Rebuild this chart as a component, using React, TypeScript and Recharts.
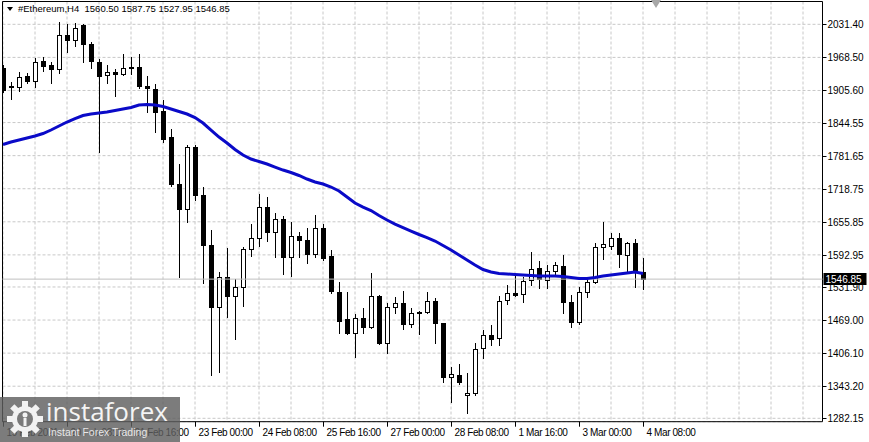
import {
  ComposedChart,
  Bar,
  Line,
  XAxis,
  YAxis,
  CartesianGrid,
  ReferenceLine,
  ReferenceArea,
} from "recharts";

// time labels, one every 8 H4 bars
const timeLabels = [
  "19 Feb 2021", "20 Feb 08:00", "21 Feb 16:00", "23 Feb 00:00", "24 Feb 08:00",
  "25 Feb 16:00", "27 Feb 00:00", "28 Feb 08:00", "1 Mar 16:00", "3 Mar 00:00", "4 Mar 08:00",
];

const priceTicks = [
  2031.4, 1968.5, 1905.6, 1844.55, 1781.65, 1718.75, 1655.85,
  1592.95, 1531.9, 1469.0, 1406.1, 1343.2, 1282.15,
];

const lastPrice = 1546.85;

const opens = [
  1948.9, 1914.1, 1912.7, 1933.1, 1923.6, 1961.6, 1954.0, 1946.4, 2011.0, 2001.5,
  2030.1, 1993.4, 1960.6, 1935.0, 1941.2, 1936.9, 1948.5, 1950.8, 1914.1, 1907.8,
  1866.5, 1816.5, 1727.7, 1679.6, 1797.5, 1706.8, 1611.7, 1494.3, 1550.3, 1514.7,
  1532.4, 1603.5, 1624.4, 1684.5, 1637.0, 1660.6, 1589.4, 1628.8, 1621.2, 1594.6,
  1643.4, 1590.8, 1522.9, 1470.4, 1444.9, 1472.3, 1455.2, 1514.7, 1425.9, 1494.3,
  1502.0, 1461.4, 1481.8, 1484.8, 1505.8, 1462.8, 1361.2, 1364.5, 1325.9, 1329.7,
  1415.2, 1440.5, 1434.8, 1507.1, 1521.0, 1518.5, 1545.1, 1567.4, 1545.1, 1562.8,
  1571.7, 1503.9, 1465.8, 1522.9, 1541.9, 1608.4, 1609.8, 1624.4, 1592.7, 1614.9,
  1560.5,
];
const highs = [
  1954.0, 1922.2, 1940.1, 1938.2, 1966.7, 1969.8, 1960.3, 2036.3, 2031.4, 2033.3,
  2032.0, 1998.7, 1965.4, 1954.0, 1946.4, 1974.9, 1969.8, 1974.9, 1933.1, 1917.3,
  1887.4, 1831.7, 1765.7, 1801.9, 1801.9, 1721.4, 1640.2, 1560.9, 1605.4, 1546.5,
  1608.4, 1651.6, 1708.7, 1703.5, 1673.1, 1666.8, 1656.0, 1637.0, 1643.4, 1668.7,
  1651.6, 1602.2, 1541.9, 1522.9, 1480.5, 1491.3, 1559.0, 1516.6, 1500.8, 1513.4,
  1524.8, 1491.3, 1486.0, 1522.9, 1510.3, 1463.9, 1379.1, 1384.8, 1367.7, 1424.7,
  1450.0, 1459.5, 1514.7, 1535.6, 1556.5, 1550.3, 1598.9, 1581.8, 1573.6, 1579.9,
  1592.7, 1516.6, 1531.2, 1551.4, 1616.1, 1656.0, 1633.9, 1633.9, 1618.0, 1622.5,
  1587.75,
];
const lows = [
  1902.6, 1889.3, 1904.5, 1919.2, 1912.7, 1942.6, 1919.2, 1938.2, 1978.1, 1990.7,
  1960.3, 1947.7, 1789.5, 1919.2, 1896.0, 1935.0, 1936.9, 1911.2, 1865.2, 1827.1,
  1808.1, 1723.9, 1551.4, 1656.0, 1697.3, 1540.0, 1364.5, 1370.7, 1475.3, 1432.4,
  1495.7, 1590.8, 1609.8, 1619.9, 1588.3, 1556.5, 1552.7, 1589.4, 1578.0, 1589.4,
  1583.2, 1520.4, 1444.9, 1443.0, 1398.1, 1444.9, 1453.3, 1423.0, 1406.9, 1481.8,
  1451.4, 1455.2, 1442.4, 1483.0, 1424.7, 1351.7, 1313.7, 1347.3, 1292.8, 1326.4,
  1396.2, 1421.5, 1421.5, 1499.5, 1514.7, 1503.9, 1535.6, 1529.9, 1529.3, 1554.6,
  1482.9, 1455.2, 1461.4, 1513.4, 1539.4, 1584.5, 1603.5, 1570.4, 1562.8, 1531.2,
  1527.95,
];
const closes = [
  1906.4, 1912.2, 1931.7, 1924.1, 1959.1, 1952.7, 1945.8, 2011.0, 2001.5, 2024.9,
  1993.4, 1961.6, 1933.1, 1941.2, 1936.9, 1948.3, 1949.5, 1914.1, 1909.7, 1864.0,
  1813.3, 1727.7, 1679.6, 1797.5, 1706.8, 1611.7, 1494.3, 1550.3, 1514.7, 1532.4,
  1603.5, 1624.4, 1684.5, 1637.0, 1660.6, 1589.4, 1628.8, 1621.2, 1594.6, 1643.4,
  1586.4, 1524.8, 1467.7, 1444.9, 1472.3, 1455.2, 1514.7, 1425.9, 1494.3, 1502.0,
  1461.4, 1481.8, 1484.8, 1505.8, 1463.9, 1361.2, 1365.8, 1351.7, 1329.7, 1413.3,
  1440.5, 1432.9, 1505.2, 1521.0, 1516.6, 1543.8, 1565.5, 1546.5, 1562.8, 1573.6,
  1503.9, 1465.8, 1522.9, 1541.9, 1608.4, 1613.6, 1624.4, 1594.6, 1616.1, 1560.9,
  1546.85,
];
// moving average (blue line)
const maValues = [
  1802.8, 1807.6, 1811.4, 1815.2, 1819.0, 1823.7, 1830.4, 1838.0, 1845.6, 1852.2,
  1858.0, 1860.8, 1862.7, 1864.6, 1867.5, 1870.3, 1873.2, 1877.9, 1878.9, 1877.9,
  1875.1, 1870.3, 1865.6, 1860.8, 1854.1, 1843.7, 1830.4, 1817.1, 1805.7, 1793.3,
  1782.8, 1775.2, 1770.5, 1765.7, 1760.0, 1754.3, 1749.6, 1743.9, 1737.2, 1731.5,
  1727.7, 1722.0, 1714.4, 1703.0, 1691.6, 1683.9, 1677.3, 1667.8, 1659.2, 1651.6,
  1645.0, 1638.3, 1631.7, 1625.9, 1619.3, 1610.7, 1602.2, 1592.7, 1583.2, 1573.6,
  1565.1, 1560.3, 1557.5, 1556.5, 1555.6, 1554.6, 1553.7, 1552.7, 1552.7, 1552.7,
  1551.8, 1549.9, 1548.0, 1548.0, 1549.9, 1552.7, 1554.6, 1556.5, 1558.4, 1560.3,
  1557.5,
];

const data = opens.map((o, i) => ({
  k: i,
  open: o,
  high: highs[i],
  low: lows[i],
  close: closes[i],
  ma: maValues[i],
}));

const Y_MIN = 1275.7;
const Y_MAX = 2074.8;
const X_MIN = -0.0625;
const X_MAX = 102.4375;
const gridTicks = [0, 4, 8, 12, 16, 20, 24, 28, 32, 36, 40, 44, 48, 52, 56, 60, 64, 68, 72, 76, 80, 84, 88, 92, 96, 100];

const FONT = "'Liberation Sans', Arial, sans-serif";

function Candle(props: any) {
  const { x, y, width, height, payload } = props;
  if (x == null || y == null || !payload) return <g />;
  const top = Math.min(y, y + height);
  const bottom = Math.max(y, y + height);
  const { open, high, low, close } = payload;
  const span = high - low || 1;
  const py = (p: number) => top + ((high - p) / span) * (bottom - top);
  const cx = Math.round(x + width / 2);
  const bull = close >= open;
  const bTop = Math.round(py(Math.max(open, close)));
  const bBot = Math.round(py(Math.min(open, close)));
  return (
    <g>
      <line x1={cx + 0.5} x2={cx + 0.5} y1={Math.round(top)} y2={Math.round(bottom) + 1} stroke="#000" strokeWidth={1} />
      <rect
        x={cx - 1.5}
        y={bTop + 0.5}
        width={4}
        height={Math.max(bBot - bTop, 0)}
        fill={bull ? "#fff" : "#000"}
        stroke="#000"
        strokeWidth={1}
      />
    </g>
  );
}

function TimeTick(props: any) {
  const { x, y, payload } = props;
  const k = payload.value;
  const idx = k / 8;
  if (k % 8 !== 0 || idx >= timeLabels.length) return <g />;
  const px = Math.round(x) + 0.5;
  return (
    <g>
      <line x1={px} x2={px} y1={y} y2={y + 5} stroke="#000" />
      <text x={px + 3} y={y + 14} fontSize={10} letterSpacing={-0.4} fontFamily={FONT} fill="#000">
        {timeLabels[idx]}
      </text>
    </g>
  );
}

function PriceTick(props: any) {
  const { x, y, payload } = props;
  const py = Math.round(y) + 0.5;
  return (
    <g>
      <line x1={x} x2={x + 4} y1={py} y2={py} stroke="#000" />
      <text x={x + 5} y={py + 3.5} fontSize={10} fontFamily={FONT} fill="#000">
        {payload.value.toFixed(2)}
      </text>
    </g>
  );
}

function LastPriceLabel(props: any) {
  const { viewBox } = props;
  if (!viewBox) return <g />;
  const lx = viewBox.x + viewBox.width + 1;
  const ly = Math.round(viewBox.y);
  return (
    <g>
      <rect x={lx} y={ly - 6} width={43} height={12} fill="#000" />
      <text x={lx + 2} y={ly + 4} fontSize={10} fontFamily={FONT} fill="#fff">
        {lastPrice.toFixed(2)}
      </text>
    </g>
  );
}

function Gear() {
  const teeth = [0, 45, 90, 135, 180, 225, 270, 315];
  return (
    <svg width={40} height={40} viewBox="0 0 40 40" style={{ position: "absolute", left: 5, top: 2 }}>
      {teeth.map((a) => (
        <rect key={a} x={17} y={2} width={6} height={8} fill="#f2f2f2" transform={`rotate(${a} 20 20)`} />
      ))}
      <circle cx={20} cy={20} r={13} fill="#f2f2f2" />
      <circle cx={20} cy={20} r={8} fill="#7a7a7a" />
      <circle cx={20} cy={16} r={2.5} fill="#f2f2f2" />
      <rect x={18.5} y={19} width={3} height={8} fill="#f2f2f2" />
    </svg>
  );
}

export default function App() {
  return (
    <div style={{ position: "relative", width: 869, height: 442, background: "#fff", overflow: "hidden" }}>
      <style>{`body{margin:0}`}</style>
      <ComposedChart
        width={869}
        height={442}
        data={data}
        margin={{ top: 1.5, right: 0, bottom: 0, left: 2.5 }}
      >
        <CartesianGrid stroke="#c8c8c8" strokeDasharray="3 2" />
        <XAxis
          dataKey="k"
          type="number"
          domain={[X_MIN, X_MAX]}
          ticks={gridTicks}
          interval={0}
          allowDataOverflow
          height={20.3}
          tickLine={false}
          axisLine={false}
          tickSize={0}
          tickMargin={0}
          tick={<TimeTick />}
        />
        <YAxis
          orientation="right"
          type="number"
          domain={[Y_MIN, Y_MAX]}
          ticks={priceTicks}
          interval={0}
          allowDataOverflow
          width={46.5}
          tickLine={false}
          axisLine={false}
          tickSize={0}
          tickMargin={0}
          tick={<PriceTick />}
        />
        <ReferenceLine y={lastPrice} stroke="#c0c0c0" strokeWidth={1} label={<LastPriceLabel />} />
        <Bar
          dataKey={(d: any) => [d.low, d.high]}
          barSize={5}
          shape={<Candle />}
          isAnimationActive={false}
        />
        <Line
          type="linear"
          dataKey="ma"
          stroke="#0a0ac8"
          strokeWidth={3}
          dot={false}
          isAnimationActive={false}
        />
        <ReferenceArea
          x1={X_MIN}
          x2={X_MAX}
          y1={Y_MIN}
          y2={Y_MAX}
          fill="none"
          stroke="#000"
          strokeWidth={1}
          ifOverflow="visible"
        />
      </ComposedChart>

      {/* header */}
      <div
        style={{
          position: "absolute",
          left: 7,
          top: 3,
          fontFamily: FONT,
          fontSize: 9.5,
          whiteSpace: "pre",
          color: "#000",
          display: "flex",
          alignItems: "center",
        }}
      >
        <span
          style={{
            display: "inline-block",
            width: 0,
            height: 0,
            borderLeft: "3px solid transparent",
            borderRight: "3px solid transparent",
            borderTop: "4px solid #000",
            marginRight: 5,
          }}
        />
        <span>{"#Ethereum,H4  1560.50 1587.75 1527.95 1546.85"}</span>
      </div>

      {/* chart shift marker */}
      <div
        style={{
          position: "absolute",
          left: 651,
          top: 0,
          width: 0,
          height: 0,
          borderLeft: "5px solid transparent",
          borderRight: "5px solid transparent",
          borderTop: "8px solid #a8a8a8",
        }}
      />

      {/* watermark */}
      <div
        style={{
          position: "absolute",
          left: 0,
          top: 397,
          width: 180,
          height: 45,
          background: "rgba(95,95,95,0.82)",
        }}
      >
        <Gear />
        <div
          style={{
            position: "absolute",
            left: 46,
            top: -4,
            fontFamily: "'Open Sans', sans-serif",
            fontSize: 26,
            color: "#f4f4f4",
            letterSpacing: 0,
          }}
        >
          instaforex
        </div>
        <div
          style={{
            position: "absolute",
            left: 48,
            top: 29,
            fontFamily: FONT,
            fontSize: 10.5,
            color: "#e8e8e8",
          }}
        >
          Instant Forex Trading
        </div>
      </div>
    </div>
  );
}
